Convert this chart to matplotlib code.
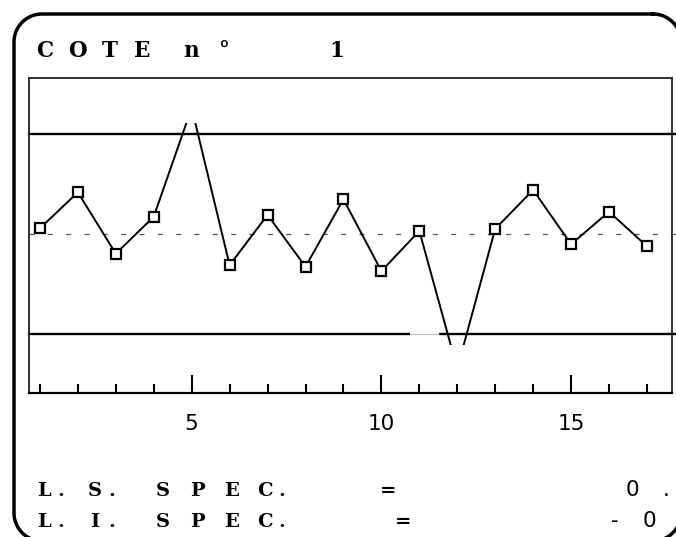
import matplotlib
matplotlib.use("Agg")
import numpy as np
import matplotlib.pyplot as plt
from matplotlib.patches import Rectangle

# ---- data -------------------------------------------------------------
samples = list(range(1, 18))
measures = [0.0026, 0.0206, -0.0101, 0.0084, 0.0628, -0.0158, 0.0093,
            -0.0166, 0.0171, -0.0188, 0.0013, -0.0676, 0.0023, 0.0218,
            -0.0054, 0.0109, -0.0064]
upper_spec = 0.05
lower_spec = -0.05
nominal = 0.0
major_ticks = [5, 10, 15]
major_labels = ["5", "10", "15"]
minor_ticks = samples

title_text = "C O T E  n °      1"
ls_label = "L. S.  S P E C."
li_label = "L. I.  S P E C."
ls_value = "0 ."
li_value = "- 0"

# ---- figure -----------------------------------------------------------
W, H = 676, 537
plt.rcParams["lines.scale_dashes"] = False
fig = plt.figure(figsize=(W / 100, H / 100), dpi=100)
fig.patch.set_facecolor("white")


def fx(x):
    return x / W


def fy(y):
    return 1 - y / H


# sheet layer in pixel units (y downwards) for the rounded frame
sheet = fig.add_axes([0, 0, 1, 1], zorder=0)
sheet.set_xlim(0, W)
sheet.set_ylim(H, 0)
sheet.axis("off")


def rounded_outline(x0, y0, x1, y1, r, n=24):
    pts = []
    corners = [((x1 - r, y0 + r), -90, 0), ((x1 - r, y1 - r), 0, 90),
               ((x0 + r, y1 - r), 90, 180), ((x0 + r, y0 + r), 180, 270)]
    for (cx, cy), a0, a1 in corners:
        t = np.radians(np.linspace(a0, a1, n))
        pts.extend(zip(cx + r * np.cos(t), cy + r * np.sin(t)))
    pts.append(pts[0])
    xs, ys = zip(*pts)
    return xs, ys


fxs, fys = rounded_outline(14, 14, 681, 541, 28)
sheet.plot(fxs, fys, color="black", lw=2.5, solid_joinstyle="round")

# plotting box
ax_l, ax_r, ax_t, ax_b = 29, 672, 78, 393
ax = fig.add_axes([fx(ax_l), fy(ax_b), (ax_r - ax_l) / W, (ax_b - ax_t) / H],
                  zorder=1)
ax.set_xlim(0.712, 17.66)
ax.set_ylim(-0.07975, 0.07775)
for s in ax.spines.values():
    s.set_linewidth(1.3)
    s.set_color("#222222")
ax.spines["bottom"].set_color("black")
ax.spines["bottom"].set_linewidth(1.6)

ext = (676 - ax_l) / (ax_r - ax_l)
# spec limits and nominal
ax.axhline(upper_spec, 0, ext, color="black", lw=1.7, clip_on=False, zorder=2)
ax.axhline(lower_spec, 0, ext, color="black", lw=1.7, clip_on=False, zorder=2)
ax.plot([10.76, 11.53], [lower_spec, lower_spec], color="white", lw=2.8,
        solid_capstyle="butt", zorder=2.1)
ax.plot([10.76, 11.53], [lower_spec, lower_spec], color="#bbbbbb", lw=0.8,
        solid_capstyle="butt", zorder=2.2)
ax.axhline(nominal, 0, ext, color="#555555", lw=0.9, clip_on=False,
           linestyle=(0, (3.6, 9.6)), zorder=1)

# measured values, clipped to the drawable band
line, = ax.plot(samples, measures, color="black", lw=1.4, marker="s",
                markersize=6.8, markerfacecolor="white",
                markeredgecolor="black", markeredgewidth=1.6, zorder=3)
band = Rectangle((0.712, -0.0555), 17.66 - 0.712, 0.111,
                 transform=ax.transData)
line.set_clip_path(band)

# axis ticks
ax.set_yticks([])
ax.set_xticks(major_ticks)
ax.set_xticklabels(major_labels)
ax.set_xticks(minor_ticks, minor=True)
ax.tick_params(axis="x", which="major", direction="in", length=13,
               width=1.5, pad=15, labelsize=15.5, colors="black")
ax.tick_params(axis="x", which="minor", direction="in", length=6.7,
               width=1.5)
ax.tick_params(axis="x", which="both", top=False)


def spaced(text, x0, pitch, y, **kw):
    for i, ch in enumerate(text):
        if ch != " ":
            fig.text(fx(x0 + i * pitch), fy(y), ch, ha="center",
                     va="baseline", **kw)


serif = dict(family="DejaVu Serif", weight="bold", color="black")
sans = dict(family="DejaVu Sans", color="black", fontsize=15.5)

spaced(title_text, 45, 16.2, 57, fontsize=15.5, **serif)
spaced(ls_label, 44, 17, 496, fontsize=14, **serif)
spaced(li_label, 44, 17, 527, fontsize=14, **serif)
spaced("=", 388, 17, 496, fontsize=14, **serif)
spaced("=", 403, 17, 527, fontsize=14, **serif)
spaced(ls_value, 632, 17, 496, **sans)
spaced(li_value, 615, 17, 527, **sans)

fig.savefig("out.png", dpi=100, facecolor="white")
